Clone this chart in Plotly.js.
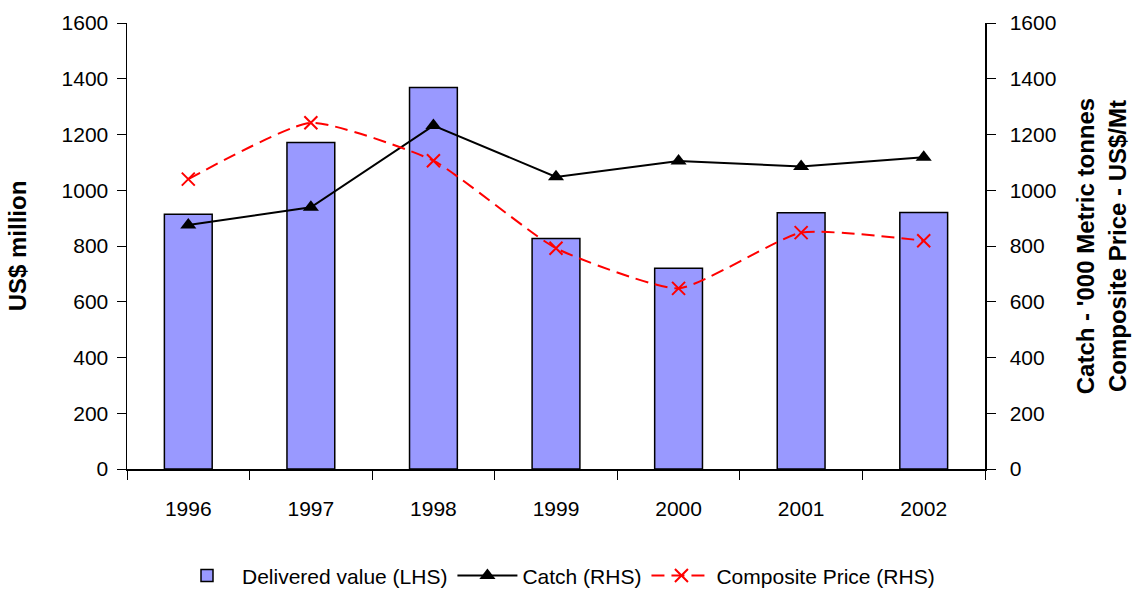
<!DOCTYPE html>
<html>
<head>
<meta charset="utf-8">
<script src="https://cdn.plot.ly/plotly-3.0.1.min.js"></script>
<style>html,body{margin:0;padding:0;background:#fff;}#chart{width:1141px;height:590px;}</style>
</head>
<body>
<div id="chart"></div>
<script>
const years = ["1996","1997","1998","1999","2000","2001","2002"];
const deliveredValue = [914, 1171, 1369, 827, 720, 919, 920];
const catchRHS = [875, 939, 1232, 1048, 1105, 1085, 1118];
const compositePrice = [1040, 1242, 1106, 792, 648, 848, 819];
const yTicks = [0, 200, 400, 600, 800, 1000, 1200, 1400, 1600];

const font = "Liberation Sans, Arial, sans-serif";

const traces = [
  {
    type: "bar", x: years, y: deliveredValue, name: "Delivered value (LHS)",
    marker: {color: "#9999FF", line: {color: "#000000", width: 1.5}},
    yaxis: "y"
  },
  {
    type: "scatter", mode: "lines+markers", x: years, y: catchRHS, name: "Catch (RHS)",
    line: {color: "#000000", width: 2},
    marker: {symbol: "triangle-up", size: 14, color: "#000000"},
    yaxis: "y2"
  },
  {
    type: "scatter", mode: "lines+markers", x: years, y: compositePrice, name: "Composite Price (RHS)",
    line: {color: "#FF0000", width: 2, dash: "13px,7px", shape: "spline", smoothing: 0.5},
    marker: {symbol: "x-thin-open", size: 13, color: "#FF0000", line: {color: "#FF0000", width: 2}},
    yaxis: "y2"
  }
];

const layout = {
  width: 1141, height: 590,
  margin: {l: 127, r: 156, t: 23, b: 121, autoexpand: false},
  paper_bgcolor: "#ffffff", plot_bgcolor: "#ffffff",
  font: {family: font, size: 21, color: "#000000"},
  bargap: 0.61,
  showlegend: true,
  legend: {orientation: "h", x: 0.5, xanchor: "center", yref: "container", y: 0.024, yanchor: "middle",
           font: {family: font, size: 21, color: "#000"}, traceorder: "normal", itemwidth: 60},
  xaxis: {
    type: "category", showline: true, linecolor: "#000", linewidth: 1.5,
    ticks: "outside", ticklen: 9, tickcolor: "#000", tickson: "boundaries",
    showgrid: false, zeroline: false, ticklabelstandoff: 20,
    tickfont: {family: font, size: 21}
  },
  yaxis: {
    range: [0, 1600], tickvals: yTicks, ticktext: yTicks.map(String),
    showline: true, linecolor: "#000", linewidth: 1.5,
    ticks: "outside", ticklen: 9, tickcolor: "#000",
    showgrid: false, zeroline: false, ticklabelstandoff: 4,
    tickfont: {family: font, size: 21},
    title: {text: "US$ million", font: {family: font, size: 24, weight: "bold"}, standoff: 28}
  },
  yaxis2: {
    overlaying: "y", side: "right", range: [0, 1600], tickvals: yTicks, ticktext: yTicks.map(String),
    showline: true, linecolor: "#000", linewidth: 1.5,
    ticks: "outside", ticklen: 9, tickcolor: "#000",
    showgrid: false, zeroline: false, ticklabelstandoff: 10,
    tickfont: {family: font, size: 21},
    title: {text: "Catch - '000 Metric tonnes<br>Composite Price - US$/Mt", font: {family: font, size: 24, weight: "bold"}, standoff: 22}
  }
};

Plotly.newPlot("chart", traces, layout, {displayModeBar: false, staticPlot: true});
</script>
</body>
</html>
